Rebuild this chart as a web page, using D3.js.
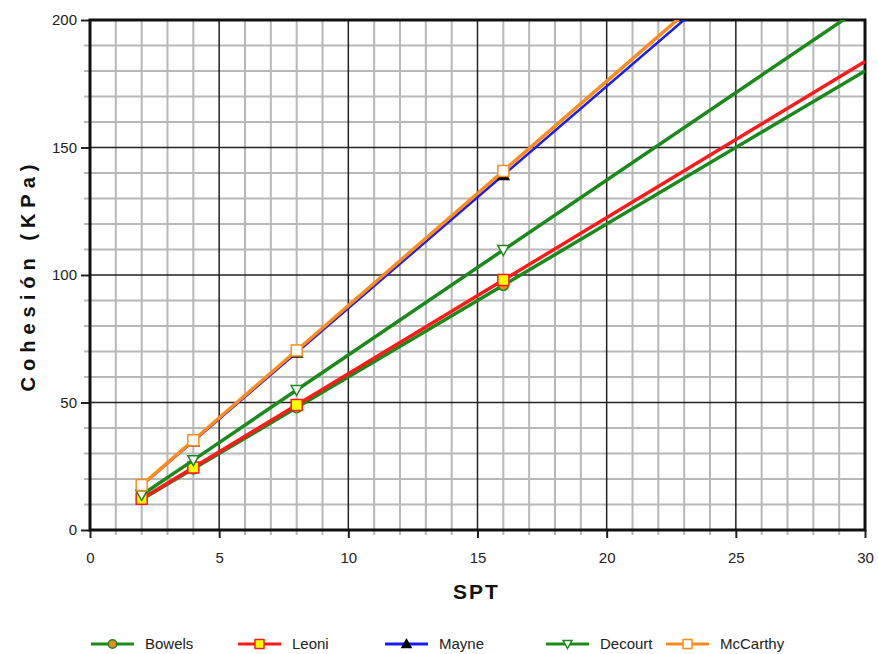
<!DOCTYPE html>
<html>
<head>
<meta charset="utf-8">
<script src="https://cdn.jsdelivr.net/npm/d3@7"></script>
<style>
    body { margin: 0; background: #fff; }
    text { font-family: "Liberation Sans", Arial, sans-serif; }
</style>
</head>
<body>
<svg id="chart" width="878" height="654"></svg>
<script>
"use strict";

// SPT values; the last one only carries the line to the edge of the plot (no marker)
var spt = [2, 4, 8, 16, 30];
var markerCount = 4;

var bowels = [12, 24, 48, 96, 180];
var leoni = [12.25, 24.5, 49, 98, 183.75];
var mayne = [17.4, 34.8, 69.6, 139.2, 261];
var decourt = [13.7, 27.4, 54.9, 109.8, 205.8];
var mccarthy = [17.6, 35.2, 70.4, 140.8, 264];

var xTicks = [0, 5, 10, 15, 20, 25, 30];
var yTicks = [0, 50, 100, 150, 200];

var series = [
    { name: 'Bowels', values: bowels, line: '#1a8a1a', fill: '#f08a1c', stroke: '#1a8a1a', shape: 'circle' },
    { name: 'Leoni', values: leoni, line: '#ff1a1a', fill: '#ffff00', stroke: '#ff1a1a', shape: 'square' },
    { name: 'Mayne', values: mayne, line: '#1a1aff', fill: '#000000', stroke: '#000000', shape: 'triangle' },
    { name: 'Decourt', values: decourt, line: '#1a8a1a', fill: '#ffffff', stroke: '#1a8a1a', shape: 'triangleDown' },
    { name: 'McCarthy', values: mccarthy, line: '#ff8c1a', fill: '#ffffff', stroke: '#ff8c1a', shape: 'square' }
];

// draw order: the later ones sit on top
var drawOrder = ['Bowels', 'Leoni', 'Decourt', 'Mayne', 'McCarthy'];

var margin = { left: 90, top: 20, right: 13, bottom: 124 };
var width = 878 - margin.left - margin.right;
var height = 654 - margin.top - margin.bottom;

var svg = d3.select('#chart');

var x = d3.scaleLinear().domain([0, 30]).range([0, width]);
var y = d3.scaleLinear().domain([0, 200]).range([height, 0]);

var g = svg.append('g').attr('transform', 'translate(' + margin.left + ',' + margin.top + ')');

svg.append('defs').append('clipPath').attr('id', 'plotClip')
    .append('rect').attr('x', 0).attr('y', 0).attr('width', width).attr('height', height);

// minor grid
g.append('g').selectAll('line').data(d3.range(1, 30).filter(function(d) { return d % 5 !== 0; }))
    .enter().append('line')
    .attr('x1', function(d) { return x(d); }).attr('x2', function(d) { return x(d); })
    .attr('y1', 0).attr('y2', height)
    .attr('stroke', '#b8b8b8').attr('stroke-width', 2);

g.append('g').selectAll('line').data(d3.range(10, 200, 10).filter(function(d) { return d % 50 !== 0; }))
    .enter().append('line')
    .attr('y1', function(d) { return y(d); }).attr('y2', function(d) { return y(d); })
    .attr('x1', -6).attr('x2', width)
    .attr('stroke', '#b8b8b8').attr('stroke-width', 2);

// major grid
g.append('g').selectAll('line').data(xTicks.slice(1, -1))
    .enter().append('line')
    .attr('x1', function(d) { return x(d); }).attr('x2', function(d) { return x(d); })
    .attr('y1', 0).attr('y2', height)
    .attr('stroke', '#222').attr('stroke-width', 1.5);

g.append('g').selectAll('line').data(yTicks.slice(1, -1))
    .enter().append('line')
    .attr('y1', function(d) { return y(d); }).attr('y2', function(d) { return y(d); })
    .attr('x1', 0).attr('x2', width)
    .attr('stroke', '#222').attr('stroke-width', 1.5);

// axes
var xAxis = g.append('g')
    .attr('transform', 'translate(0,' + height + ')')
    .call(d3.axisBottom(x).tickValues(xTicks).tickSize(8).tickPadding(14));

var yAxis = g.append('g')
    .call(d3.axisLeft(y).tickValues(yTicks).tickSize(9).tickPadding(4));

[xAxis, yAxis].forEach(function(ax) {
    ax.select('.domain').remove();
    ax.selectAll('line').attr('stroke', '#222').attr('stroke-width', 2);
    ax.selectAll('text').attr('fill', '#222').style('font-size', '15px');
});

// minor ticks below x axis
g.append('g').selectAll('line').data(d3.range(1, 30).filter(function(d) { return d % 5 !== 0; }))
    .enter().append('line')
    .attr('x1', function(d) { return x(d); }).attr('x2', function(d) { return x(d); })
    .attr('y1', height).attr('y2', height + 5)
    .attr('stroke', '#b8b8b8').attr('stroke-width', 2);

// frame
g.append('rect')
    .attr('x', 0).attr('y', 0).attr('width', width).attr('height', height)
    .attr('fill', 'none').attr('stroke', '#111').attr('stroke-width', 3);

// symbols
function symbolPath(shape, size) {
    var h = size / 2;
    switch (shape) {
        case 'square':
            return 'M' + -h + ',' + -h + 'H' + h + 'V' + h + 'H' + -h + 'Z';
        case 'triangle':
            return 'M0,' + -h + 'L' + h + ',' + h * 0.8 + 'L' + -h + ',' + h * 0.8 + 'Z';
        case 'triangleDown':
            return 'M0,' + h + 'L' + h + ',' + -h * 0.8 + 'L' + -h + ',' + -h * 0.8 + 'Z';
        case 'circle':
            return d3.symbol().type(d3.symbolCircle).size(size * size * 0.7)();
    }
}

var lineGen = d3.line()
    .x(function(d) { return x(d[0]); })
    .y(function(d) { return y(d[1]); });

var plot = g.append('g').attr('clip-path', 'url(#plotClip)');

drawOrder.forEach(function(name) {
    var s = series.find(function(d) { return d.name === name; });
    var pts = spt.map(function(v, i) { return [v, s.values[i]]; });

    plot.append('path')
        .datum(pts)
        .attr('d', lineGen)
        .attr('fill', 'none')
        .attr('stroke', s.line)
        .attr('stroke-width', name === 'Mayne' ? 2.5 : 3.5);

    plot.selectAll(null).data(pts.slice(0, markerCount))
        .enter().append('path')
        .attr('transform', function(d) { return 'translate(' + x(d[0]) + ',' + y(d[1]) + ')'; })
        .attr('d', symbolPath(s.shape, 11))
        .attr('fill', s.fill)
        .attr('stroke', s.stroke)
        .attr('stroke-width', 1.5);
});

// axis titles
svg.append('text')
    .attr('x', margin.left + width / 2 - 1)
    .attr('y', 599)
    .attr('text-anchor', 'middle')
    .style('font-size', '21px')
    .style('font-weight', 'bold')
    .style('letter-spacing', '2px')
    .attr('fill', '#111')
    .text('SPT');

svg.append('text')
    .attr('transform', 'translate(35,' + (margin.top + height / 2) + ') rotate(-90)')
    .attr('text-anchor', 'middle')
    .style('font-size', '20px')
    .style('font-weight', 'bold')
    .style('letter-spacing', '6px')
    .attr('fill', '#111')
    .text('Cohesión (KPa)');

// legend
var legendX = [91, 238, 385, 546, 666];
var legend = svg.append('g').attr('transform', 'translate(0,644)');

series.forEach(function(s, i) {
    var item = legend.append('g').attr('transform', 'translate(' + legendX[i] + ',0)');
    item.append('line')
        .attr('x1', 0).attr('x2', 43)
        .attr('stroke', s.line).attr('stroke-width', 3);
    item.append('path')
        .attr('transform', 'translate(21.5,0)')
        .attr('d', symbolPath(s.shape, 9))
        .attr('fill', s.fill)
        .attr('stroke', s.stroke)
        .attr('stroke-width', 1.5);
    item.append('text')
        .attr('x', 54).attr('y', 5)
        .style('font-size', '15px')
        .attr('fill', '#222')
        .text(s.name);
});
</script>
</body>
</html>
